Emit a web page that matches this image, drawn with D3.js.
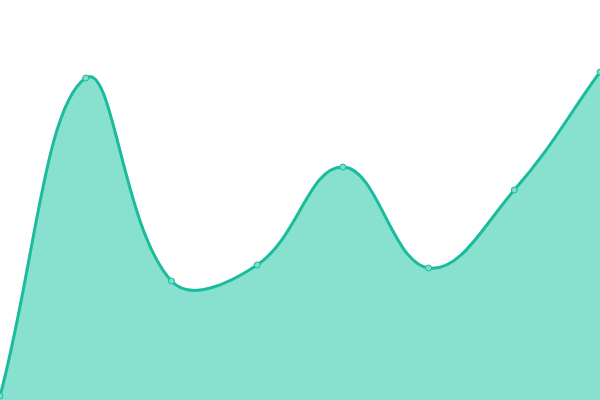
<!DOCTYPE html>
<html>
<head>
<meta charset="utf-8">
<script src="https://cdn.jsdelivr.net/npm/d3@7"></script>
<style>
  html, body { margin: 0; padding: 0; background: #fff; }
  svg { display: block; }
</style>
</head>
<body>
<svg id="chart"></svg>
<script>
// values
var labels = ['1', '2', '3', '4', '5', '6', '7', '8'];
var values = [1, 80.5, 29.75, 33.75, 58.25, 33, 52.5, 82];

var width = 600, height = 400;
var tension = 0.4;

// spline with distance-weighted control points (tension 0.4)
function splineCurve(context) {
  return {
    areaStart: function() { this._line = 0; },
    areaEnd: function() { this._line = NaN; },
    lineStart: function() { this._pts = []; },
    point: function(px, py) { this._pts.push([+px, +py]); },
    lineEnd: function() {
      var p = this._pts, n = p.length;
      if (n) {
        var cp = p.map(function(c, i) {
          var prev = p[i - 1] || c, next = p[i + 1] || c;
          var d01 = Math.hypot(c[0] - prev[0], c[1] - prev[1]);
          var d12 = Math.hypot(next[0] - c[0], next[1] - c[1]);
          var s01 = d01 / (d01 + d12) || 0, s12 = d12 / (d01 + d12) || 0;
          var fa = tension * s01, fb = tension * s12;
          var cap = v => [Math.max(0, Math.min(width, v[0])), Math.max(0, Math.min(height, v[1]))];
          return {
            prev: cap([c[0] - fa * (next[0] - prev[0]), c[1] - fa * (next[1] - prev[1])]),
            next: cap([c[0] + fb * (next[0] - prev[0]), c[1] + fb * (next[1] - prev[1])])
          };
        });
        if (this._line) context.lineTo(p[0][0], p[0][1]);
        else context.moveTo(p[0][0], p[0][1]);
        for (var i = 1; i < n; i++) {
          context.bezierCurveTo(cp[i - 1].next[0], cp[i - 1].next[1], cp[i].prev[0], cp[i].prev[1], p[i][0], p[i][1]);
        }
      }
      if (this._line || (this._line !== 0 && n === 1)) context.closePath();
      this._line = 1 - this._line;
    }
  };
}

var svg = d3.select('#chart')
  .attr('width', width)
  .attr('height', height);

var x = d3.scalePoint()
  .domain(labels)
  .range([0, width]);

var y = d3.scaleLinear()
  .domain([0, 100])
  .range([height, 0]);

var data = labels.map((d, i) => ({ label: d, value: values[i] }));

var area = d3.area()
  .x(d => x(d.label))
  .y0(height)
  .y1(d => y(d.value))
  .curve(splineCurve);

var line = d3.line()
  .x(d => x(d.label))
  .y(d => y(d.value))
  .curve(splineCurve);

svg.append('path')
  .datum(data)
  .attr('d', area)
  .style('fill', '#88e0cf');

svg.append('path')
  .datum(data)
  .attr('d', line)
  .style('fill', 'none')
  .style('stroke', '#1abc9c')
  .style('stroke-width', 3);

svg.selectAll('circle')
  .data(data)
  .enter()
  .append('circle')
    .attr('cx', d => x(d.label))
    .attr('cy', d => y(d.value))
    .attr('r', 3)
    .style('fill', '#7fdcc8')
    .style('stroke', '#1abc9c')
    .style('stroke-width', 1);
</script>
</body>
</html>
